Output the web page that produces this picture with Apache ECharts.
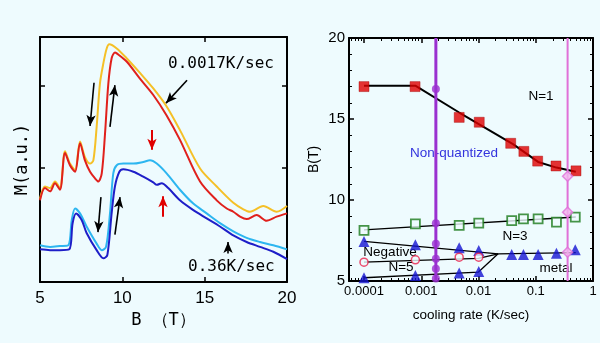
<!DOCTYPE html>
<html><head><meta charset="utf-8">
<script src="https://cdn.jsdelivr.net/npm/echarts@6/dist/echarts.min.js"></script>
<style>html,body{margin:0;padding:0;background:#eefbfe}#c{width:600px;height:343px}</style>
</head><body><div id="c"></div>
<script>
// ---------- Left panel: M (a.u.) vs B (T) ----------
const bYellow = [5.00,5.30,5.61,5.91,6.21,6.52,6.82,7.13,7.43,7.73,8.04,8.24,8.44,8.64,8.85,9.05,9.21,9.66,10.26,11.07,11.88,12.69,13.50,14.72,15.73,16.74,17.35,17.75,18.56,19.37,20.0];
const mYellow = [1.02,1.17,1.15,1.23,1.15,1.60,1.45,1.37,1.72,1.53,1.45,1.49,1.90,2.43,2.68,2.86,2.91,2.86,2.74,2.56,2.37,2.15,1.86,1.39,1.17,0.97,0.89,0.86,0.93,0.86,0.93];
const bRed = [5.00,5.30,5.61,5.91,6.21,6.52,6.82,7.13,7.43,7.73,8.04,8.34,8.54,8.75,8.95,9.15,9.35,9.55,9.66,10.26,11.07,11.88,12.69,13.50,14.72,15.73,16.34,16.74,17.15,17.55,18.16,18.76,19.37,20.0];
const mRed = [1.00,1.15,1.11,1.21,1.13,1.58,1.43,1.35,1.70,1.49,1.35,1.27,1.23,1.33,1.82,2.43,2.74,2.81,2.80,2.70,2.49,2.29,2.04,1.74,1.23,1.00,0.90,0.86,0.80,0.77,0.82,0.75,0.80,0.84];
const bCyan = [5.00,5.61,6.21,6.72,6.93,7.13,7.43,7.83,8.44,8.75,9.01,9.25,9.45,9.66,10.06,10.67,11.27,11.68,12.09,12.69,13.50,14.31,15.12,15.93,16.74,17.55,18.36,19.17,20.0];
const mCyan = [0.45,0.43,0.44,0.45,0.76,0.90,0.84,0.68,0.47,0.39,0.43,0.84,1.33,1.43,1.45,1.45,1.47,1.49,1.45,1.33,1.13,0.96,0.84,0.72,0.62,0.54,0.49,0.45,0.40];
const bBlue = [5.00,5.61,6.21,6.78,6.98,7.19,7.53,7.83,8.44,8.85,9.09,9.35,9.55,9.82,10.06,10.67,11.27,11.88,12.10,12.39,12.79,13.50,14.31,15.12,15.93,16.74,17.55,18.36,19.17,20.0];
const mBlue = [0.40,0.39,0.39,0.40,0.72,0.84,0.76,0.60,0.39,0.29,0.33,0.84,1.17,1.35,1.38,1.35,1.29,1.22,1.19,1.21,1.15,1.00,0.88,0.78,0.68,0.57,0.49,0.43,0.37,0.28];
const bTicks = [5, 10, 15, 20];
const mTicks = [1.4, 2.4];
// arrows: [B1, M1, B2, M2] (tail -> head)
const blackArrows = [[8.28,2.44,8.04,1.91],[9.25,1.90,9.55,2.41],[13.93,2.47,12.65,2.19],[8.70,1.04,8.52,0.61],[9.55,0.58,9.86,1.04],[16.42,0.35,16.42,0.49]];
const redArrows = [[11.80,1.86,11.80,1.62],[12.47,0.80,12.47,1.05]];

// ---------- Right panel: B (T) vs cooling rate ----------
const rateTicks = [0.0001, 0.001, 0.01, 0.1, 1];
const n1Rate = [0.0001, 0.00078, 0.0046, 0.0103, 0.0365, 0.062, 0.108, 0.226, 0.505];
const n1B = [17.0, 17.0, 15.1, 14.8, 13.5, 13.0, 12.4, 12.1, 11.8];
const n1FitRate = [0.0001, 0.0008, 0.0046, 0.04, 0.11, 0.23, 0.5];
const n1FitB = [17.05, 17.05, 15.4, 13.45, 12.35, 12.0, 11.75];
const n3Rate = [0.0001, 0.00079, 0.0046, 0.0101, 0.038, 0.061, 0.11, 0.23, 0.49];
const n3B = [8.12, 8.53, 8.43, 8.57, 8.73, 8.84, 8.84, 8.63, 8.94];
const n3FitRate = [0.0001, 0.5];
const n3FitB = [8.15, 8.95];
const triRate = [0.0001, 0.00079, 0.0046, 0.0101, 0.038, 0.061, 0.11, 0.23, 0.49];
const triB = [7.44, 7.23, 7.05, 6.88, 6.64, 6.64, 6.64, 6.72, 6.93];
const triLowRate = [0.0001, 0.00079, 0.0046, 0.0101];
const triLowB = [5.2, 5.34, 5.5, 5.59];
const circRate = [0.0001, 0.00079, 0.0046, 0.0101];
const circB = [6.16, 6.31, 6.47, 6.47];
const lineARate = [0.0001, 0.022, 0.5];
const lineAB = [7.44, 6.68, 6.75];
const lineBRate = [0.0001, 0.01, 0.022];
const lineBB = [6.16, 6.4, 6.68];
const lineCRate = [0.0001, 0.01, 0.022];
const lineCB = [5.2, 5.55, 6.68];
const slowRate = 0.0018;
const slowB = [16.85, 8.57, 7.3, 6.37, 5.75, 5.15];
const fastRate = 0.36;
const fastB = [11.47, 9.25, 6.78];
const bAxisTicks = [5, 10, 15, 20];

const zip = (xs, ys) => xs.map((x, i) => [x, ys[i]]);
const minorRates = [];
[-5, -4, -3, -2, -1].forEach(e => { for (let k = 2; k <= 9; k++) { const v = +(k * Math.pow(10, e)).toPrecision(2); if (v >= 5.5e-5 && v < 1) minorRates.push(v); } });

const BLK = '#000';
const axLine = { show: true, onZero: false, lineStyle: { color: BLK, width: 2 } };
const monoFont = 'DejaVu Sans Mono';
const sansFont = 'Liberation Sans';

function arrowLines(list, color, width) {
  return list.map(a => [
    { coord: [a[0], a[1]], lineStyle: { color: color, width: width, type: 'solid' } },
    { coord: [a[2], a[3]] }
  ]);
}

const chart = echarts.init(document.getElementById('c'), null, { renderer: 'canvas' });
const option = {
  animation: false,
  backgroundColor: '#eefbfe',
  grid: [
    { left: 40, top: 37, width: 247, height: 245 },
    { left: 349, top: 38, width: 244, height: 243 }
  ],
  xAxis: [
    { type: 'value', gridIndex: 0, min: 5, max: 20, interval: 5, position: 'bottom',
      axisLine: axLine, splitLine: { show: false },
      axisTick: { inside: true, length: 5, lineStyle: { color: BLK, width: 1.5 }, customValues: bTicks },
      axisLabel: { color: BLK, fontSize: 17, fontFamily: sansFont, margin: 8, customValues: bTicks },
      name: 'B （T）', nameLocation: 'middle', nameGap: 21,
      nameTextStyle: { color: BLK, fontSize: 17, fontFamily: monoFont } },
    { type: 'value', gridIndex: 0, min: 5, max: 20, interval: 5, position: 'top',
      axisLine: axLine, splitLine: { show: false },
      axisTick: { inside: true, length: 5, lineStyle: { color: BLK, width: 1.5 } },
      axisLabel: { show: false } },
    { type: 'log', gridIndex: 1, min: 5.47e-5, max: 1, position: 'bottom',
      axisLine: axLine, splitLine: { show: false },
      axisTick: { inside: true, length: 5, lineStyle: { color: BLK, width: 1.5 }, customValues: rateTicks },
      axisLabel: { color: BLK, fontSize: 13, fontFamily: sansFont, margin: 4, customValues: rateTicks,
        formatter: v => String(+(+v).toPrecision(3)) },
      name: 'cooling rate (K/sec)', nameLocation: 'middle', nameGap: 27,
      nameTextStyle: { color: BLK, fontSize: 13.5, fontFamily: sansFont } },
    { type: 'log', gridIndex: 1, min: 5.47e-5, max: 1, position: 'bottom',
      axisLine: { show: false, onZero: false }, splitLine: { show: false },
      axisTick: { inside: true, length: 3, lineStyle: { color: BLK, width: 1 }, customValues: minorRates },
      axisLabel: { show: false } },
    { type: 'log', gridIndex: 1, min: 5.47e-5, max: 1, position: 'top',
      axisLine: axLine, splitLine: { show: false },
      axisTick: { inside: true, length: 5, lineStyle: { color: BLK, width: 1.5 }, customValues: rateTicks },
      axisLabel: { show: false } },
    { type: 'log', gridIndex: 1, min: 5.47e-5, max: 1, position: 'top',
      axisLine: { show: false, onZero: false }, splitLine: { show: false },
      axisTick: { inside: true, length: 3, lineStyle: { color: BLK, width: 1 }, customValues: minorRates },
      axisLabel: { show: false } }
  ],
  yAxis: [
    { type: 'value', gridIndex: 0, min: 0, max: 3, position: 'left',
      axisLine: axLine, splitLine: { show: false },
      axisTick: { inside: true, length: 5, lineStyle: { color: BLK, width: 1.5 }, customValues: mTicks },
      axisLabel: { show: false },
      name: 'M(a.u.)', nameLocation: 'middle', nameGap: 9, nameRotate: 90,
      nameTextStyle: { color: BLK, fontSize: 17, fontFamily: monoFont } },
    { type: 'value', gridIndex: 0, min: 0, max: 3, position: 'right',
      axisLine: axLine, splitLine: { show: false },
      axisTick: { inside: true, length: 5, lineStyle: { color: BLK, width: 1.5 }, customValues: mTicks },
      axisLabel: { show: false } },
    { type: 'value', gridIndex: 1, min: 5, max: 20, interval: 5, position: 'left',
      axisLine: axLine, splitLine: { show: false },
      axisTick: { inside: true, length: 5, lineStyle: { color: BLK, width: 1.5 } },
      minorTick: { show: true, splitNumber: 5, length: 3, lineStyle: { color: BLK, width: 1 } },
      axisLabel: { color: BLK, fontSize: 15, fontFamily: sansFont, margin: 4 },
      name: 'B(T)', nameLocation: 'middle', nameGap: 28, nameRotate: 90,
      nameTextStyle: { color: BLK, fontSize: 14, fontFamily: sansFont } },
    { type: 'value', gridIndex: 1, min: 5, max: 20, interval: 5, position: 'right',
      axisLine: axLine, splitLine: { show: false },
      axisTick: { inside: true, length: 5, lineStyle: { color: BLK, width: 1.5 } },
      minorTick: { show: true, splitNumber: 5, length: 3, lineStyle: { color: BLK, width: 1 } },
      axisLabel: { show: false } }
  ],
  series: [
    // left panel curves
    { name: '0.0017K/sec warm', type: 'line', xAxisIndex: 0, yAxisIndex: 0, data: zip(bYellow, mYellow),
      showSymbol: false, smooth: 0.3, lineStyle: { color: '#f5c027', width: 2 } },
    { name: '0.0017K/sec', type: 'line', xAxisIndex: 0, yAxisIndex: 0, data: zip(bRed, mRed),
      showSymbol: false, smooth: 0.3, lineStyle: { color: '#e0201c', width: 2 } },
    { name: '0.36K/sec warm', type: 'line', xAxisIndex: 0, yAxisIndex: 0, data: zip(bCyan, mCyan),
      showSymbol: false, smooth: 0.3, lineStyle: { color: '#2db6f0', width: 2 } },
    { name: '0.36K/sec', type: 'line', xAxisIndex: 0, yAxisIndex: 0, data: zip(bBlue, mBlue),
      showSymbol: false, smooth: 0.3, lineStyle: { color: '#1e1ec8', width: 2 } },
    { name: 'arrows', type: 'line', xAxisIndex: 0, yAxisIndex: 0, data: [], silent: true,
      markLine: { silent: true, symbol: ['none', 'arrow'], symbolSize: [7, 11], label: { show: false },
        emphasis: { disabled: true },
        data: arrowLines(blackArrows, '#000', 1.6).concat(arrowLines(redArrows, '#e00000', 2)) } },
    // right panel
    { name: 'N1 fit', type: 'line', xAxisIndex: 2, yAxisIndex: 2, data: zip(n1FitRate, n1FitB),
      showSymbol: false, lineStyle: { color: '#000', width: 2 }, z: 2 },
    { name: 'N3 fit', type: 'line', xAxisIndex: 2, yAxisIndex: 2, data: zip(n3FitRate, n3FitB),
      showSymbol: false, lineStyle: { color: '#000', width: 1.3 }, z: 2 },
    { name: 'line A', type: 'line', xAxisIndex: 2, yAxisIndex: 2, data: zip(lineARate, lineAB),
      showSymbol: false, lineStyle: { color: '#000', width: 1.3 }, z: 2 },
    { name: 'line B', type: 'line', xAxisIndex: 2, yAxisIndex: 2, data: zip(lineBRate, lineBB),
      showSymbol: false, lineStyle: { color: '#000', width: 1.3 }, z: 2 },
    { name: 'line C', type: 'line', xAxisIndex: 2, yAxisIndex: 2, data: zip(lineCRate, lineCB),
      showSymbol: false, lineStyle: { color: '#000', width: 1.3 }, z: 2 },
    { name: 'N=1', type: 'scatter', xAxisIndex: 2, yAxisIndex: 2, data: zip(n1Rate, n1B),
      symbol: 'rect', symbolSize: 10, itemStyle: { color: '#e00000', borderColor: '#a00000', borderWidth: 0.5 }, z: 4 },
    { name: 'N=3', type: 'scatter', xAxisIndex: 2, yAxisIndex: 2, data: zip(n3Rate, n3B),
      symbol: 'rect', symbolSize: 9, itemStyle: { color: '#eefbfe', borderColor: '#1a7a1a', borderWidth: 1.8 }, z: 4 },
    { name: 'triangles', type: 'scatter', xAxisIndex: 2, yAxisIndex: 2, data: zip(triRate, triB),
      symbol: 'triangle', symbolSize: 11, itemStyle: { color: '#1414d2' }, z: 4 },
    { name: 'triangles low', type: 'scatter', xAxisIndex: 2, yAxisIndex: 2, data: zip(triLowRate, triLowB),
      symbol: 'triangle', symbolSize: 11, itemStyle: { color: '#1414d2' }, z: 4 },
    { name: 'circles', type: 'scatter', xAxisIndex: 2, yAxisIndex: 2, data: zip(circRate, circB),
      symbol: 'circle', symbolSize: 8, itemStyle: { color: '#eefbfe', borderColor: '#e8204a', borderWidth: 1.5 }, z: 4 },
    { name: 'slow line', type: 'line', xAxisIndex: 2, yAxisIndex: 2, data: [[slowRate, 5], [slowRate, 20]],
      showSymbol: false, lineStyle: { color: '#9a30d0', width: 3 }, z: 5 },
    { name: 'slow points', type: 'scatter', xAxisIndex: 2, yAxisIndex: 2, data: slowB.map(b => [slowRate, b]),
      symbol: 'circle', symbolSize: 8, itemStyle: { color: '#9a30d0' }, z: 6 },
    { name: 'fast line', type: 'line', xAxisIndex: 2, yAxisIndex: 2, data: [[fastRate, 5], [fastRate, 20]],
      showSymbol: false, lineStyle: { color: '#e070d8', width: 2 }, z: 5 },
    { name: 'fast points', type: 'scatter', xAxisIndex: 2, yAxisIndex: 2, data: fastB.map(b => [fastRate, b]),
      symbol: 'diamond', symbolSize: 10, itemStyle: { color: '#f2b4ee', borderColor: '#e070d8', borderWidth: 1.5 }, z: 6 }
  ],
  graphic: [
    { type: 'text', left: 168, top: 56, style: { text: '0.0017K/sec', fill: '#000', font: '16px "DejaVu Sans Mono"' } },
    { type: 'text', left: 188, top: 259, style: { text: '0.36K/sec', fill: '#000', font: '16px "DejaVu Sans Mono"' } },
    { type: 'text', x: 541, y: 96, style: { text: 'N=1', fill: '#000', font: '13.5px "Liberation Sans"', align: 'center', verticalAlign: 'middle' } },
    { type: 'text', x: 454, y: 153, style: { text: 'Non-quantized', fill: '#3333dd', font: '13.5px "Liberation Sans"', align: 'center', verticalAlign: 'middle' } },
    { type: 'text', x: 515, y: 236, style: { text: 'N=3', fill: '#000', font: '13.5px "Liberation Sans"', align: 'center', verticalAlign: 'middle' } },
    { type: 'text', x: 390, y: 252, style: { text: 'Negative', fill: '#000', font: '13.5px "Liberation Sans"', align: 'center', verticalAlign: 'middle' } },
    { type: 'text', x: 401, y: 267, style: { text: 'N=5', fill: '#000', font: '13.5px "Liberation Sans"', align: 'center', verticalAlign: 'middle' } },
    { type: 'text', x: 556, y: 268, style: { text: 'metal', fill: '#000', font: '13.5px "Liberation Sans"', align: 'center', verticalAlign: 'middle' } }
  ]
};
chart.setOption(option);
</script></body></html>
